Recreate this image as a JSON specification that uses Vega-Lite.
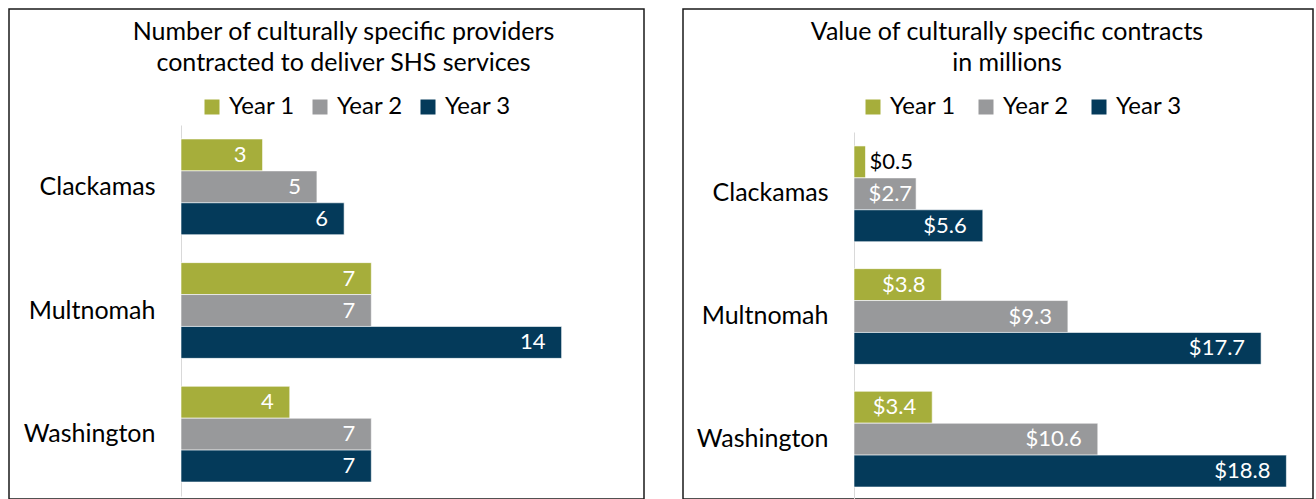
{
  "$schema": "https://vega.github.io/schema/vega-lite/v6.json",
  "padding": {"left": 8, "top": 8, "right": 0, "bottom": 0},
  "spacing": 37,
  "config": {
    "font": "Lato",
    "view": {"stroke": "#1a1a1a", "strokeWidth": 1.5},
    "title": {"font": "Lato", "fontSize": 25, "fontWeight": "normal", "color": "#000", "lineHeight": 31, "anchor": "middle", "baseline": "top"},
    "axis": {"labelFont": "Lato", "labelColor": "#000"},
    "legend": {"labelFont": "Lato", "labelColor": "#000"}
  },
  "datasets": {
    "providers": [
      {"county": "Clackamas", "year": "Year 1", "value": 3},
      {"county": "Clackamas", "year": "Year 2", "value": 5},
      {"county": "Clackamas", "year": "Year 3", "value": 6},
      {"county": "Multnomah", "year": "Year 1", "value": 7},
      {"county": "Multnomah", "year": "Year 2", "value": 7},
      {"county": "Multnomah", "year": "Year 3", "value": 14},
      {"county": "Washington", "year": "Year 1", "value": 4},
      {"county": "Washington", "year": "Year 2", "value": 7},
      {"county": "Washington", "year": "Year 3", "value": 7}
    ],
    "contracts": [
      {"county": "Clackamas", "year": "Year 1", "value": 0.5},
      {"county": "Clackamas", "year": "Year 2", "value": 2.7},
      {"county": "Clackamas", "year": "Year 3", "value": 5.6},
      {"county": "Multnomah", "year": "Year 1", "value": 3.8},
      {"county": "Multnomah", "year": "Year 2", "value": 9.3},
      {"county": "Multnomah", "year": "Year 3", "value": 17.7},
      {"county": "Washington", "year": "Year 1", "value": 3.4},
      {"county": "Washington", "year": "Year 2", "value": 10.6},
      {"county": "Washington", "year": "Year 3", "value": 18.8}
    ]
  },
  "hconcat": [
    {
      "width": 635,
      "height": 490,
      "data": {"name": "providers"},
      "title": {"text": ["Number of culturally specific providers", "contracted to deliver SHS services"], "offset": -67, "dx": 17},
      "encoding": {
        "y": {"field": "county", "type": "nominal", "sort": ["Clackamas", "Multnomah", "Washington"],
              "scale": {"range": [116, 487], "paddingInner": 0, "paddingOuter": 0},
              "axis": {"title": null, "offset": -172, "ticks": false, "domainColor": "#d9d9d9", "labelFontSize": 25, "labelPadding": 26}},
        "yOffset": {"field": "year", "type": "nominal", "scale": {"paddingInner": 0, "paddingOuter": 0.4375}},
        "x": {"field": "value", "type": "quantitative", "scale": {"domain": [0, 16], "range": [172, 607]}, "axis": null}
      },
      "layer": [
        {
          "mark": {"type": "bar", "stroke": "#ffffff", "strokeWidth": 0.6},
          "encoding": {
            "color": {"field": "year", "type": "nominal",
                      "scale": {"domain": ["Year 1", "Year 2", "Year 3"], "range": ["#a6ae3b", "#98999b", "#043a5a"]},
                      "legend": {"title": null, "orient": "none", "legendX": 191, "legendY": 86, "direction": "horizontal",
                                 "symbolType": "square", "symbolSize": 225, "symbolStrokeWidth": 0, "labelFontSize": 24, "columnPadding": 13, "labelOffset": 5}}
          }
        },
        {
          "mark": {"type": "text", "align": "right", "baseline": "middle", "dx": -16, "fontSize": 22, "color": "white"},
          "encoding": {"text": {"field": "value", "type": "quantitative"}}
        }
      ]
    },
    {
      "width": 630,
      "height": 490,
      "data": {"name": "contracts"},
      "title": {"text": ["Value of culturally specific contracts", "in millions"], "offset": -67, "dx": 9},
      "encoding": {
        "y": {"field": "county", "type": "nominal", "sort": ["Clackamas", "Multnomah", "Washington"],
              "scale": {"range": [123, 491], "paddingInner": 0, "paddingOuter": 0},
              "axis": {"title": null, "offset": -171, "ticks": false, "domainColor": "#d9d9d9", "labelFontSize": 25, "labelPadding": 26}},
        "yOffset": {"field": "year", "type": "nominal", "scale": {"paddingInner": 0, "paddingOuter": 0.4375}},
        "x": {"field": "value", "type": "quantitative", "scale": {"domain": [0, 20], "range": [171, 631]}, "axis": null}
      },
      "layer": [
        {
          "mark": {"type": "bar", "stroke": "#ffffff", "strokeWidth": 0.6},
          "encoding": {
            "color": {"field": "year", "type": "nominal",
                      "scale": {"domain": ["Year 1", "Year 2", "Year 3"], "range": ["#a6ae3b", "#98999b", "#043a5a"]},
                      "legend": {"title": null, "orient": "none", "legendX": 178, "legendY": 86, "direction": "horizontal",
                                 "symbolType": "square", "symbolSize": 225, "symbolStrokeWidth": 0, "labelFontSize": 24, "columnPadding": 18, "labelOffset": 5}}
          }
        },
        {
          "transform": [{"filter": "datum.value >= 3"}],
          "mark": {"type": "text", "align": "right", "baseline": "middle", "dx": -16, "fontSize": 22, "color": "white"},
          "encoding": {"text": {"field": "value", "type": "quantitative", "format": "$.1f"}}
        },
        {
          "transform": [{"filter": "datum.value >= 1 && datum.value < 3"}],
          "mark": {"type": "text", "align": "right", "baseline": "middle", "dx": -4, "fontSize": 22, "color": "white"},
          "encoding": {"text": {"field": "value", "type": "quantitative", "format": "$.1f"}}
        },
        {
          "transform": [{"filter": "datum.value < 1"}],
          "mark": {"type": "text", "align": "left", "baseline": "middle", "dx": 4, "fontSize": 22, "color": "black"},
          "encoding": {"text": {"field": "value", "type": "quantitative", "format": "$.1f"}}
        }
      ]
    }
  ],
  "resolve": {"scale": {"color": "independent"}, "legend": {"color": "independent"}}
}
